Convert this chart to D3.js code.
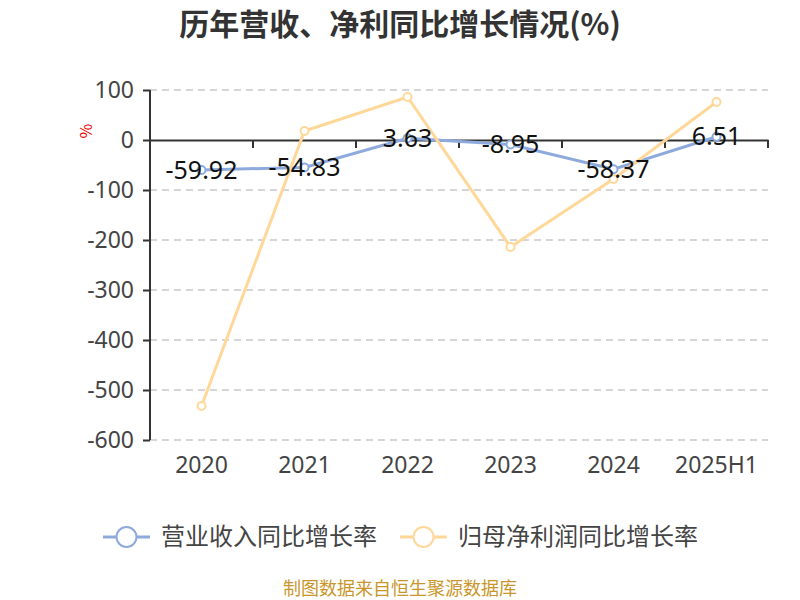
<!DOCTYPE html>
<html><head><meta charset="utf-8">
<script src="https://cdn.jsdelivr.net/npm/d3@7"></script>
<style>body{margin:0;background:#fff;}svg{display:block;font-family:"Noto Sans CJK SC","Noto Sans",sans-serif;}</style>
</head><body><svg id="c" width="800" height="600"></svg>
<script>
const categories = ["2020","2021","2022","2023","2024","2025H1"];
const revenueGrowth = [-59.92,-54.83,3.63,-8.95,-58.37,6.51];
const profitGrowth = [-532,18,86,-214,-78,76];
const yTicks = [100,0,-100,-200,-300,-400,-500,-600];
const seriesNames = ["营业收入同比增长率","归母净利润同比增长率"];
const colors = ["#8eaadc","#ffd899"];

const svg = d3.select("#c");
const x = d3.scaleBand().domain(categories).range([150,768]);
const y = d3.scaleLinear().domain([-600,100]).range([440,90]);

svg.append("text").attr("x",400).attr("y",35).attr("text-anchor","middle")
  .attr("font-size",30).attr("font-weight","bold").attr("fill","#333").text("历年营收、净利同比增长情况(%)");

// grid
svg.append("g").selectAll("line").data(yTicks.filter(d=>d!==0)).join("line")
  .attr("x1",150).attr("x2",768).attr("y1",d=>y(d)).attr("y2",d=>y(d))
  .attr("stroke","#c8c8c8").attr("stroke-dasharray","7,5").attr("stroke-width",1.3);

// y axis
const ya = svg.append("g").attr("transform","translate(150,0)")
  .call(d3.axisLeft(y).tickValues(yTicks).tickSize(7).tickPadding(9).tickFormat(d=>String(d)));
ya.select(".domain").attr("stroke","#333").attr("stroke-width",2).attr("d","M0,90V440");
ya.selectAll(".tick line").attr("stroke","#333").attr("stroke-width",2);
ya.selectAll("text").attr("font-size",23).attr("fill","#444").attr("font-family","Noto Sans, sans-serif");

// x axis at zero
const xa = svg.append("g").attr("transform",`translate(0,${y(0)})`)
  .call(d3.axisBottom(x).tickSize(0).tickFormat(""));
xa.select(".domain").attr("stroke","#333").attr("stroke-width",2);
const bounds = categories.map(c=>x(c)+x.bandwidth());
xa.selectAll(".btick").data(bounds).join("line").attr("class","btick")
  .attr("x1",d=>d).attr("x2",d=>d).attr("y1",0).attr("y2",8).attr("stroke","#333").attr("stroke-width",2);

// x labels
svg.append("g").selectAll("text").data(categories).join("text")
  .attr("x",d=>x(d)+x.bandwidth()/2).attr("y",473).attr("text-anchor","middle")
  .attr("font-size",23).attr("fill","#444").attr("font-family","Noto Sans, sans-serif").text(d=>d);

// % label
svg.append("text").attr("transform","translate(92,131) rotate(-90)").attr("text-anchor","middle")
  .attr("font-size",16).attr("fill","#e00").text("%");

const cx = d=>x(d)+x.bandwidth()/2;
const line = d3.line().x((d,i)=>cx(categories[i])).y(d=>y(d));
[revenueGrowth, profitGrowth].forEach((vals,k)=>{
  svg.append("path").attr("d",line(vals)).attr("fill","none").attr("stroke",colors[k]).attr("stroke-width",3);
  svg.append("g").selectAll("circle").data(vals).join("circle")
    .attr("cx",(d,i)=>cx(categories[i])).attr("cy",d=>y(d)).attr("r",4)
    .attr("fill","#fff").attr("stroke",colors[k]).attr("stroke-width",2);
});
svg.append("g").selectAll("text").data(revenueGrowth).join("text")
  .attr("x",(d,i)=>cx(categories[i])).attr("y",d=>y(d)).attr("dy","0.35em").attr("text-anchor","middle")
  .attr("font-size",25).attr("fill","#111").attr("font-family","Noto Sans, sans-serif").text(d=>d.toFixed(2));

// legend
const leg = [{x:103,name:seriesNames[0],c:colors[0]},{x:400,name:seriesNames[1],c:colors[1]}];
leg.forEach(l=>{
  svg.append("line").attr("x1",l.x).attr("x2",l.x+47).attr("y1",537).attr("y2",537).attr("stroke",l.c).attr("stroke-width",3);
  svg.append("circle").attr("cx",l.x+23.5).attr("cy",537).attr("r",10).attr("fill","#fff").attr("stroke",l.c).attr("stroke-width",2);
  svg.append("text").attr("x",l.x+58).attr("y",537).attr("dy","0.35em").attr("font-size",24).attr("fill","#444").text(l.name);
});

svg.append("text").attr("x",400).attr("y",595).attr("text-anchor","middle").attr("font-size",18).attr("fill","#c9962b").text("制图数据来自恒生聚源数据库");
</script></body></html>
